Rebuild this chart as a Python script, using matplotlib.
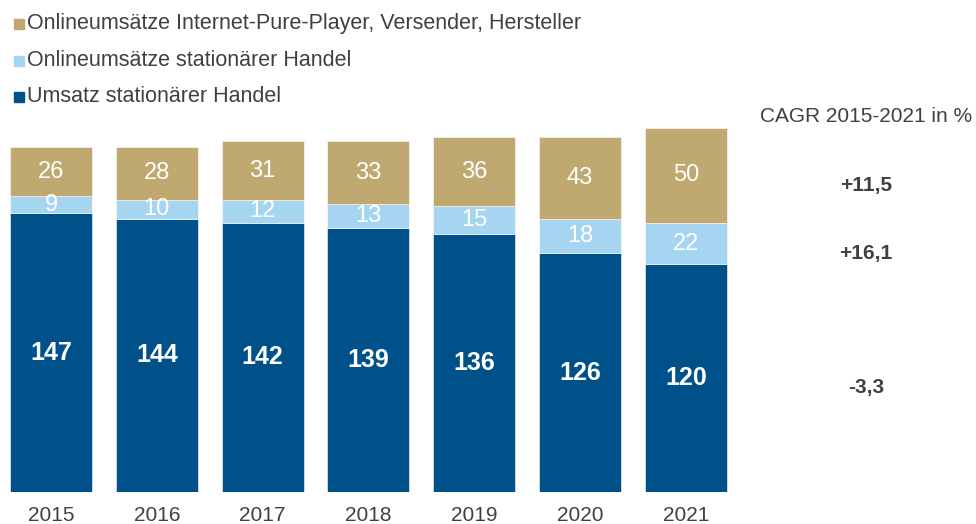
import matplotlib.pyplot as plt

plt.rcParams['font.family'] = ['Liberation Sans', 'DejaVu Sans']

# Data
years = ["2015", "2016", "2017", "2018", "2019", "2020", "2021"]
stationaer = [147, 144, 142, 139, 136, 126, 120]
online_stationaer = [9, 10, 12, 13, 15, 18, 22]
online_pure = [26, 28, 31, 33, 36, 43, 50]
series_names = ["Onlineumsätze Internet-Pure-Player, Versender, Hersteller",
                "Onlineumsätze stationärer Handel",
                "Umsatz stationärer Handel"]
cagr = ["+11,5", "+16,1", "-3,3"]

c_dark = "#00508A"
c_light = "#A6D5F2"
c_tan = "#BFA970"
c_text = "#404040"

fig = plt.figure(figsize=(9.76, 5.24), dpi=100)
ax = fig.add_axes([0, 32 / 524, 1, 492 / 524])
step = 105.8
ax.set_xlim(-51 / step, (976 - 51) / step)
ax.set_ylim(0, 492 / 1.896)
ax.axis('off')

x = list(range(len(years)))
w = 82 / step
b2 = stationaer
b3 = [a + b for a, b in zip(stationaer, online_stationaer)]
ax.bar(x, stationaer, width=w, color=c_dark, edgecolor='white', linewidth=0.4)
ax.bar(x, online_stationaer, width=w, bottom=b2, color=c_light, edgecolor='white', linewidth=0.4)
ax.bar(x, online_pure, width=w, bottom=b3, color=c_tan, edgecolor='white', linewidth=0.4)

for i in x:
    ax.text(i, stationaer[i] / 2, str(stationaer[i]), color='white', ha='center', va='center',
            fontsize=18, fontweight='bold')
    ax.text(i, b2[i] + online_stationaer[i] / 2, str(online_stationaer[i]), color='white',
            ha='center', va='center', fontsize=17)
    ax.text(i, b3[i] + online_pure[i] / 2, str(online_pure[i]), color='white',
            ha='center', va='center', fontsize=17)
    ax.text(i, -12.5, years[i], color=c_text, ha='center', va='center', fontsize=15)

# Legend (manual)
colors = [c_tan, c_light, c_dark]
leg_y = [24, 61, 97]
for name, col, yy in zip(series_names, colors, leg_y):
    fy = 1 - yy / 524
    fig.patches.append(plt.Rectangle((14 / 976, fy - 5 / 524), 10 / 976, 10 / 524,
                                     transform=fig.transFigure, color=col, figure=fig))
    fig.text(27 / 976, fy, name, color=c_text, ha='left', va='center', fontsize=15.5)

# CAGR column
fig.text(866 / 976, 1 - 117 / 524, "CAGR 2015-2021 in %", color=c_text, ha='center',
         va='center', fontsize=15)
for txt, yy in zip(cagr, [186, 253, 387]):
    fig.text(866 / 976, 1 - yy / 524, txt, color=c_text, ha='center', va='center',
             fontsize=15, fontweight='bold')

fig.savefig("out.png", dpi=100)
